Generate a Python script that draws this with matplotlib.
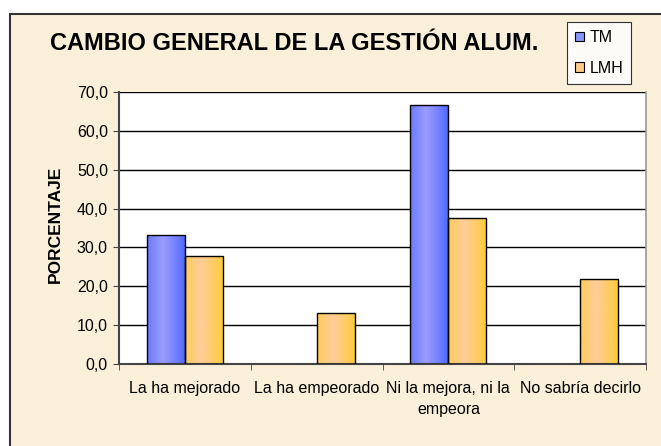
import numpy as np
import matplotlib
matplotlib.use('Agg')
import matplotlib.pyplot as plt
from matplotlib.patches import Rectangle, Patch
from matplotlib.colors import to_rgb

plt.rcParams['font.family'] = ['Liberation Sans', 'DejaVu Sans']

# datos
categorias = ['La ha mejorado', 'La ha empeorado', 'Ni la mejora, ni la\nempeora', 'No sabría decirlo']
series = ['TM', 'LMH']
tm = [33.3, 0.0, 66.7, 0.0]
lmh = [27.8, 13.0, 37.6, 21.8]
yticks = [0, 10, 20, 30, 40, 50, 60, 70]

W, H = 661, 446
fig = plt.figure(figsize=(W / 100, H / 100), dpi=100, facecolor='white')

# fondo del gráfico
bg = Rectangle((10 / W, -0.01), 1.0, (H - 14) / H + 0.01, transform=fig.transFigure,
               facecolor='#FAF0DA', edgecolor='#333333', linewidth=1.5, zorder=-5)
fig.patches.append(bg)

ax = fig.add_axes([119 / W, (H - 364) / H, (646 - 119) / W, (364 - 92) / H])
ax.set_facecolor('white')

x = np.arange(len(categorias))
bw = 0.288


def gradient_bar(ax, xc, h, c_edge, c_mid):
    """barra con degradado horizontal"""
    bar = ax.bar(xc, h, width=bw, color='none', edgecolor='black', linewidth=1.0, zorder=3)[0]
    if h <= 0:
        bar.set_visible(False)
        return bar
    t = np.linspace(0, 1, 64)
    w = np.clip(1 - np.abs(t - 0.42) / 0.58, 0, 1) ** 0.8
    e, m = np.array(to_rgb(c_edge)), np.array(to_rgb(c_mid))
    img = (e[None, :] * (1 - w[:, None]) + m[None, :] * w[:, None])[None, :, :]
    x0 = xc - bw / 2
    im = ax.imshow(img, extent=[x0, x0 + bw, 0, h], aspect='auto', zorder=2,
                   interpolation='bilinear')
    im.set_clip_path(bar)
    return bar


for i in range(len(categorias)):
    gradient_bar(ax, x[i] - bw / 2, tm[i], '#4A66FF', '#9C9CFF')
    gradient_bar(ax, x[i] + bw / 2, lmh[i], '#FFCC33', '#FFCC99')

ax.set_xlim(-0.5, len(categorias) - 0.5)
ax.set_ylim(0, 70)
ax.set_yticks(yticks)
ax.set_yticklabels([f'{v:.1f}'.replace('.', ',') for v in yticks], fontsize=11.5)
ax.yaxis.grid(True, color='black', linewidth=1.0, zorder=1)
ax.set_axisbelow(True)

ax.set_xticks(x)
ax.set_xticklabels(categorias, fontsize=11.5, linespacing=1.55)
ax.set_xticks(np.arange(-0.5, len(categorias)), minor=True)
ax.tick_params(axis='x', which='major', length=0, pad=12)
ax.tick_params(axis='x', which='minor', length=4, color='#444444')
ax.tick_params(axis='y', length=4, color='#444444', pad=4)

for s in ['left', 'bottom']:
    ax.spines[s].set_color('#444444')
    ax.spines[s].set_linewidth(1.5)
ax.spines['right'].set_color('#999999')
ax.spines['right'].set_linewidth(1.2)
ax.spines['top'].set_visible(False)

fig.text(55 / W, 1 - 283 / H, 'PORCENTAJE', rotation=90, fontsize=12.5, fontweight='bold',
         ha='center', va='bottom')

fig.text(50 / W, 1 - 50 / H, 'CAMBIO GENERAL DE LA GESTIÓN ALUM.', fontsize=17,
         fontweight='bold', ha='left', va='baseline')

# leyenda
handles = [Patch(facecolor='#8A96FF', edgecolor='black', linewidth=0.8),
           Patch(facecolor='#FFCC88', edgecolor='black', linewidth=0.8)]
leg = fig.legend(handles, series, loc='upper left', bbox_to_anchor=(567 / W, 1 - 22 / H),
                 frameon=True, fancybox=False, fontsize=11.5, handlelength=0.55, handleheight=0.55,
                 handletextpad=0.35, borderpad=0.5, labelspacing=1.0, borderaxespad=0)
leg.get_frame().set_edgecolor('black')
leg.get_frame().set_linewidth(0.8)
leg.get_frame().set_facecolor('white')

fig.savefig('out.png', dpi=100, facecolor='white')
